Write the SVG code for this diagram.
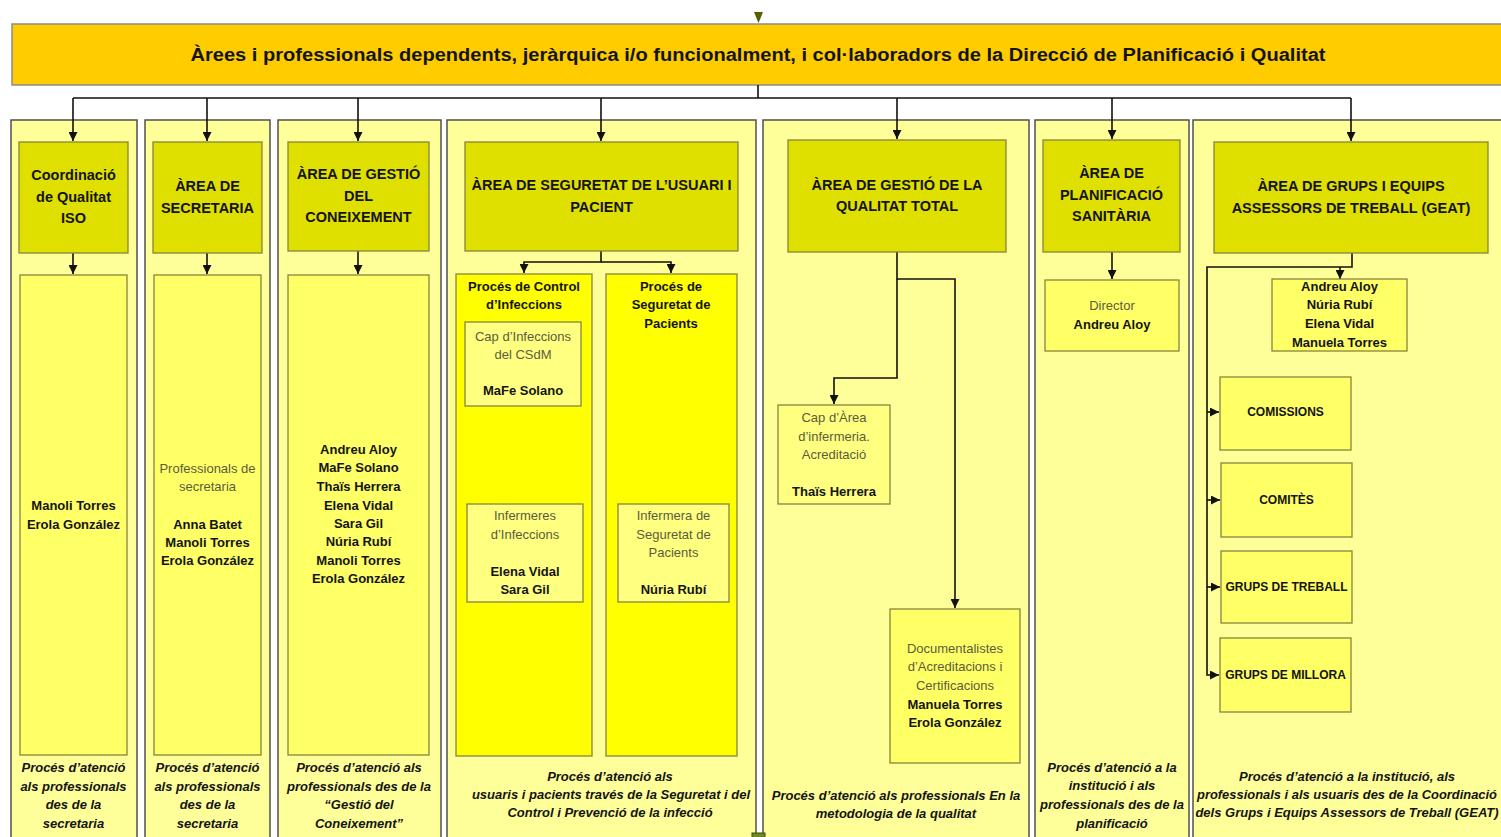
<svg xmlns="http://www.w3.org/2000/svg" width="1501" height="837" viewBox="0 0 1501 837">
<defs>
<marker id="ah" markerUnits="userSpaceOnUse" markerWidth="9" markerHeight="9" refX="9" refY="4.5" orient="auto"><path d="M0,0 L9,4.5 L0,9 z" fill="#111"/></marker>
<style>
text{font-family:"Liberation Sans",Arial,sans-serif;text-anchor:middle;fill:#141414}
.h{font-size:18px;font-weight:bold}
.t{font-size:14.5px;font-weight:bold}
.n{font-size:13px;font-weight:bold}
.g{font-size:13px;fill:#5c5c3d}
.f{font-size:13px;font-weight:bold;font-style:italic}
.c{font-size:12px;font-weight:bold}
.col{fill:#FFFF99;stroke:#505050;stroke-width:1.5}
.top{fill:#DFDF00;stroke:#85853f;stroke-width:1.3}
.in{fill:#FFFF66;stroke:#85853f;stroke-width:1.3}
.yl{fill:#FFFF00;stroke:#85853f;stroke-width:1.3}
.sm{fill:#FFFF80;stroke:#85853f;stroke-width:1.3}
.cn{fill:none;stroke:#111;stroke-width:1.6}
</style>
</defs>
<rect width="1501" height="837" fill="#fff"/>
<g id="header">
<rect x="12" y="24" width="1500" height="61" fill="#FFCC00" stroke="#8c8c8c" stroke-width="1.5"/>
<text class="h" x="758" y="61" textLength="1135" lengthAdjust="spacingAndGlyphs">Àrees i professionals dependents, jeràrquica i/o funcionalment, i col·laboradors de la Direcció de Planificació i Qualitat</text>
<path d="M754,12 L763,12 L758.5,23 z" fill="#5b5b00"/>
</g>
<g id="columns">
<rect class="col" x="11" y="120" width="126" height="740"/>
<rect class="col" x="145" y="120" width="125" height="740"/>
<rect class="col" x="278" y="120" width="163" height="740"/>
<rect class="col" x="447" y="120" width="309" height="740"/>
<rect class="col" x="763" y="120" width="266" height="740"/>
<rect class="col" x="1035" y="120" width="154" height="740"/>
<rect class="col" x="1193" y="120" width="320" height="740"/>
</g>
<g id="connectors">
<path class="cn" d="M758,85 V98 M73,98 H1351"/>
<path class="cn" d="M73,98 V141" marker-end="url(#ah)"/>
<path class="cn" d="M207,98 V141" marker-end="url(#ah)"/>
<path class="cn" d="M358,98 V141" marker-end="url(#ah)"/>
<path class="cn" d="M601,98 V141" marker-end="url(#ah)"/>
<path class="cn" d="M897,98 V139" marker-end="url(#ah)"/>
<path class="cn" d="M1112,98 V139" marker-end="url(#ah)"/>
<path class="cn" d="M1351,98 V141" marker-end="url(#ah)"/>
<path class="cn" d="M73,253 V274" marker-end="url(#ah)"/>
<path class="cn" d="M207,253 V274" marker-end="url(#ah)"/>
<path class="cn" d="M358,251 V274" marker-end="url(#ah)"/>
<path class="cn" d="M601,251 V262 H524 V273" marker-end="url(#ah)"/>
<path class="cn" d="M601,262 H671 V273" marker-end="url(#ah)"/>
<path class="cn" d="M897,252 V279 H955 V608" marker-end="url(#ah)"/>
<path class="cn" d="M897,279 V378 H834 V404" marker-end="url(#ah)"/>
<path class="cn" d="M1112,252 V279" marker-end="url(#ah)"/>
<path class="cn" d="M1352,253 V267 H1207 V675 H1219" marker-end="url(#ah)"/>
<path class="cn" d="M1340,267 V279" marker-end="url(#ah)"/>
<path class="cn" d="M1207,412 H1219" marker-end="url(#ah)"/>
<path class="cn" d="M1207,500 H1220" marker-end="url(#ah)"/>
<path class="cn" d="M1207,587 H1220" marker-end="url(#ah)"/>
</g>
<g id="col1">
<rect class="top" x="19" y="142" width="109" height="111"/>
<text class="t" x="73.5" y="180">Coordinació</text>
<text class="t" x="73.5" y="202">de Qualitat</text>
<text class="t" x="73.5" y="223">ISO</text>
<rect class="in" x="20" y="275" width="107" height="480"/>
<text class="n" x="73.5" y="510">Manoli Torres</text>
<text class="n" x="73.5" y="529">Erola González</text>
<text class="f" x="73.5" y="772">Procés d’atenció</text>
<text class="f" x="73.5" y="791">als professionals</text>
<text class="f" x="73.5" y="809">des de la</text>
<text class="f" x="73.5" y="828">secretaria</text>
</g>
<g id="col2">
<rect class="top" x="153" y="142" width="109" height="111"/>
<text class="t" x="207.5" y="191">ÀREA DE</text>
<text class="t" x="207.5" y="213">SECRETARIA</text>
<rect class="in" x="154" y="275" width="107" height="480"/>
<text class="g" x="207.5" y="473">Professionals de</text>
<text class="g" x="207.5" y="491">secretaria</text>
<text class="n" x="207.5" y="529">Anna Batet</text>
<text class="n" x="207.5" y="547">Manoli Torres</text>
<text class="n" x="207.5" y="565">Erola González</text>
<text class="f" x="207.5" y="772">Procés d’atenció</text>
<text class="f" x="207.5" y="791">als professionals</text>
<text class="f" x="207.5" y="809">des de la</text>
<text class="f" x="207.5" y="828">secretaria</text>
</g>
<g id="col3">
<rect class="top" x="288" y="142" width="141" height="109"/>
<text class="t" x="358.5" y="179">ÀREA DE GESTIÓ</text>
<text class="t" x="358.5" y="201">DEL</text>
<text class="t" x="358.5" y="222">CONEIXEMENT</text>
<rect class="in" x="288" y="275" width="141" height="480"/>
<text class="n" x="358.5" y="454">Andreu Aloy</text>
<text class="n" x="358.5" y="472">MaFe Solano</text>
<text class="n" x="358.5" y="491">Thaïs Herrera</text>
<text class="n" x="358.5" y="510">Elena Vidal</text>
<text class="n" x="358.5" y="528">Sara Gil</text>
<text class="n" x="358.5" y="546">Núria Rubí</text>
<text class="n" x="358.5" y="565">Manoli Torres</text>
<text class="n" x="358.5" y="583">Erola González</text>
<text class="f" x="359" y="772">Procés d’atenció als</text>
<text class="f" x="359" y="791">professionals des de la</text>
<text class="f" x="359" y="809">“Gestió del</text>
<text class="f" x="359" y="828">Coneixement”</text>
</g>
<g id="col4">
<rect class="top" x="465" y="142" width="273" height="109"/>
<text class="t" x="601.5" y="190">ÀREA DE SEGURETAT DE L’USUARI I</text>
<text class="t" x="601.5" y="212">PACIENT</text>
<rect class="yl" x="456" y="274" width="136" height="482"/>
<text class="n" x="524" y="291">Procés de Control</text>
<text class="n" x="524" y="309">d’Infeccions</text>
<rect class="yl" x="606" y="274" width="131" height="482"/>
<text class="n" x="671" y="291">Procés de</text>
<text class="n" x="671" y="309">Seguretat de</text>
<text class="n" x="671" y="328">Pacients</text>
<rect class="sm" x="465" y="322" width="116" height="84"/>
<text class="g" x="523" y="341">Cap d’Infeccions</text>
<text class="g" x="523" y="359">del CSdM</text>
<text class="n" x="523" y="395">MaFe Solano</text>
<rect class="sm" x="467" y="504" width="116" height="98"/>
<text class="g" x="525" y="520">Infermeres</text>
<text class="g" x="525" y="539">d’Infeccions</text>
<text class="n" x="525" y="576">Elena Vidal</text>
<text class="n" x="525" y="594">Sara Gil</text>
<rect class="sm" x="618" y="504" width="111" height="98"/>
<text class="g" x="673.5" y="520">Infermera de</text>
<text class="g" x="673.5" y="539">Seguretat de</text>
<text class="g" x="673.5" y="557">Pacients</text>
<text class="n" x="673.5" y="594">Núria Rubí</text>
<text class="f" x="610" y="781">Procés d’atenció als</text>
<text class="f" x="611" y="799">usuaris i pacients través de la Seguretat i del</text>
<text class="f" x="610" y="817">Control i Prevenció de la infecció</text>
</g>
<g id="col5">
<rect class="top" x="788" y="140" width="218" height="112"/>
<text class="t" x="897" y="190">ÀREA DE GESTIÓ DE LA</text>
<text class="t" x="897" y="211">QUALITAT TOTAL</text>
<rect class="sm" x="778" y="405" width="112" height="99"/>
<text class="g" x="834" y="422">Cap d’Àrea</text>
<text class="g" x="834" y="441">d’infermeria.</text>
<text class="g" x="834" y="459">Acreditació</text>
<text class="n" x="834" y="496">Thaïs Herrera</text>
<rect class="in" x="890" y="609" width="130" height="154"/>
<text class="g" x="955" y="653">Documentalistes</text>
<text class="g" x="955" y="671">d’Acreditacions i</text>
<text class="g" x="955" y="690">Certificacions</text>
<text class="n" x="955" y="709">Manuela Torres</text>
<text class="n" x="955" y="727">Erola González</text>
<text class="f" x="896" y="800">Procés d’atenció als professionals En la</text>
<text class="f" x="896" y="818">metodologia de la qualitat</text>
</g>
<g id="col6">
<rect class="top" x="1043" y="140" width="137" height="112"/>
<text class="t" x="1111.5" y="178">ÀREA DE</text>
<text class="t" x="1111.5" y="200">PLANIFICACIÓ</text>
<text class="t" x="1111.5" y="221">SANITÀRIA</text>
<rect class="in" x="1045" y="280" width="134" height="71"/>
<text class="g" x="1112" y="310">Director</text>
<text class="n" x="1112" y="329">Andreu Aloy</text>
<text class="f" x="1112" y="772">Procés d’atenció a la</text>
<text class="f" x="1112" y="790">institució i als</text>
<text class="f" x="1112" y="809">professionals des de la</text>
<text class="f" x="1112" y="828">planificació</text>
</g>
<g id="col7">
<rect class="top" x="1214" y="142" width="274" height="111"/>
<text class="t" x="1351" y="191">ÀREA DE GRUPS I EQUIPS</text>
<text class="t" x="1351" y="213">ASSESSORS DE TREBALL (GEAT)</text>
<rect class="in" x="1272" y="279" width="135" height="72"/>
<text class="n" x="1339.5" y="291">Andreu Aloy</text>
<text class="n" x="1339.5" y="309">Núria Rubí</text>
<text class="n" x="1339.5" y="328">Elena Vidal</text>
<text class="n" x="1339.5" y="347">Manuela Torres</text>
<rect class="in" x="1220" y="377" width="131" height="73"/>
<text class="c" x="1285.5" y="416">COMISSIONS</text>
<rect class="in" x="1221" y="463" width="131" height="74"/>
<text class="c" x="1286.5" y="504">COMITÈS</text>
<rect class="in" x="1221" y="551" width="131" height="72"/>
<text class="c" x="1286.5" y="591">GRUPS DE TREBALL</text>
<rect class="in" x="1220" y="638" width="131" height="74"/>
<text class="c" x="1285.5" y="679">GRUPS DE MILLORA</text>
<text class="f" x="1347" y="781">Procés d’atenció a la institució, als</text>
<text class="f" x="1347" y="799" textLength="300" lengthAdjust="spacingAndGlyphs">professionals i als usuaris des de la Coordinació</text>
<text class="f" x="1347" y="817">dels Grups i Equips Assessors de Treball (GEAT)</text>
</g>
<rect x="752" y="833" width="13" height="6" fill="#6b8a1f" stroke="#3d4d10" stroke-width="1"/>
</svg>
